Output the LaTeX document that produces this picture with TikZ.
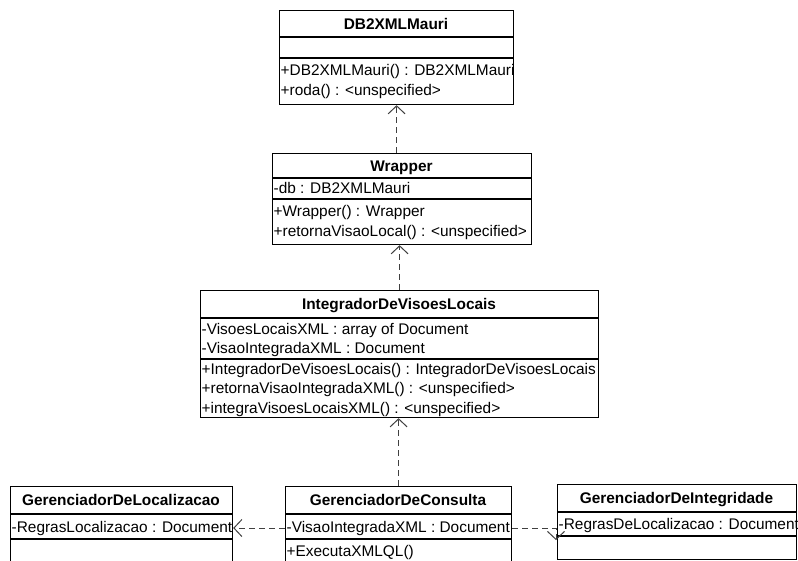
\documentclass[tikz,border=0pt]{standalone}
\usepackage{fontspec}
\setmainfont{Liberation Sans}
\usetikzlibrary{arrows.meta}
\begin{document}
\begin{tikzpicture}[x=1pt,y=-1pt,
  classbox/.style={draw, line width=1.2pt, inner sep=0pt, anchor=north west},
  compsep/.style={line width=1.2pt},
  ctitle/.style={font=\fontsize{15.4}{18}\selectfont\bfseries, inner sep=0pt, anchor=base},
  member/.style={font=\fontsize{15.4}{18}\selectfont, inner sep=0pt, anchor=base west},
  dep/.style={draw=black!75, line width=1pt, dash pattern=on 6pt off 4pt,
    -{Straight Barb[length=8pt,width=17pt,line width=1pt]}}]
\useasboundingbox (0,0) rectangle (798,561);
\clip (0,0) rectangle (798,561);

% DB2XMLMauri
\node[classbox, minimum width=234pt, minimum height=94pt] (db) at (279,10) {};
\draw[compsep] (db.west |- 0,37) -- (db.east |- 0,37);
\draw[compsep] (db.west |- 0,58) -- (db.east |- 0,58);
\node[ctitle] (dbt) at (396,29.5) {DB2XMLMauri};
\node[member] (dbm1) at (280.5,76) {+DB2XMLMauri() : DB2XMLMauri};
\node[member] (dbm2) at (280.5,95.5) {+roda() : <unspecified>};

% Wrapper
\node[classbox, minimum width=259pt, minimum height=91pt] (wr) at (272,153) {};
\draw[compsep] (wr.west |- 0,178) -- (wr.east |- 0,178);
\draw[compsep] (wr.west |- 0,199) -- (wr.east |- 0,199);
\node[ctitle] (wrt) at (401.5,171.5) {Wrapper};
\node[member] (wra1) at (273.5,193.5) {-db : DB2XMLMauri};
\node[member] (wrm1) at (273.5,217) {+Wrapper() : Wrapper};
\node[member] (wrm2) at (273.5,236.5) {+retornaVisaoLocal() : <unspecified>};

% IntegradorDeVisoesLocais
\node[classbox, minimum width=398pt, minimum height=127pt] (in) at (200,290) {};
\draw[compsep] (in.west |- 0,318) -- (in.east |- 0,318);
\draw[compsep] (in.west |- 0,359) -- (in.east |- 0,359);
\node[ctitle] (int) at (399,309.5) {IntegradorDeVisoesLocais};
\node[member] (ina1) at (201.5,334.5) {-VisoesLocaisXML : array of Document};
\node[member] (ina2) at (201.5,354) {-VisaoIntegradaXML : Document};
\node[member] (inm1) at (201.5,374) {+IntegradorDeVisoesLocais() : IntegradorDeVisoesLocais};
\node[member] (inm2) at (201.5,393.5) {+retornaVisaoIntegradaXML() : <unspecified>};
\node[member] (inm3) at (201.5,413) {+integraVisoesLocaisXML() : <unspecified>};

% GerenciadorDeLocalizacao
\node[classbox, minimum width=222pt, minimum height=90pt] (lo) at (10,486) {};
\draw[compsep] (lo.west |- 0,514) -- (lo.east |- 0,514);
\draw[compsep] (lo.west |- 0,539) -- (lo.east |- 0,539);
\node[ctitle] (lot) at (121,505.5) {GerenciadorDeLocalizacao};
\node[member] (loa1) at (11.5,532) {-RegrasLocalizacao : Document};

% GerenciadorDeConsulta
\node[classbox, minimum width=226pt, minimum height=90pt] (co) at (285,486) {};
\draw[compsep] (co.west |- 0,514) -- (co.east |- 0,514);
\draw[compsep] (co.west |- 0,539) -- (co.east |- 0,539);
\node[ctitle] (cot) at (398,505.5) {GerenciadorDeConsulta};
\node[member] (coa1) at (286.5,532) {-VisaoIntegradaXML : Document};
\node[member] (com1) at (286.5,556) {+ExecutaXMLQL()};

% GerenciadorDeIntegridade
\node[classbox, minimum width=239pt, minimum height=75pt] (ig) at (557,484) {};
\draw[compsep] (ig.west |- 0,512) -- (ig.east |- 0,512);
\draw[compsep] (ig.west |- 0,536) -- (ig.east |- 0,536);
\node[ctitle] (igt) at (676.5,503.5) {GerenciadorDeIntegridade};
\node[member] (iga1) at (558.5,529.5) {-RegrasDeLocalizacao : Document};

% dependencies
\draw[dep] (wr.north -| db.south) -- (db.south);
\draw[dep] (in.north) -- (in.north |- wr.south);
\draw[dep] (co.north) -- (co.north |- in.south);
\draw[dep] (coa1.west -| co.west) -- (coa1.west -| lo.east);
\draw[dep] (coa1.west -| co.east) -| ([xshift=-1pt,yshift=-18pt]ig.west);
\end{tikzpicture}
\end{document}
